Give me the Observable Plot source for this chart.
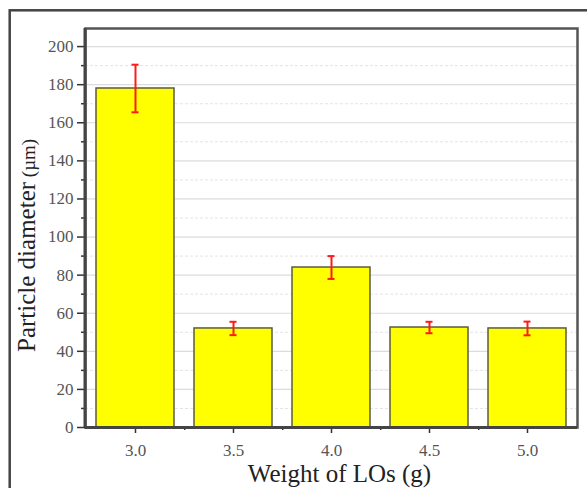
<!DOCTYPE html>
<html><head><meta charset="utf-8">
<script src="https://cdn.jsdelivr.net/npm/d3@7"></script>
<script src="https://cdn.jsdelivr.net/npm/@observablehq/plot@0.6"></script>
<style>
body{margin:0;background:#fff}
</style>
</head><body><div id="chart"></div>
<script>
const weights = ["3.0", "3.5", "4.0", "4.5", "5.0"];
const diameters = [178, 52, 84, 52.5, 52];
const errors = [12.5, 3.5, 6, 3, 3.6];
const yMajorTicks = [0, 20, 40, 60, 80, 100, 120, 140, 160, 180, 200];
const yMinorTicks = [10, 30, 50, 70, 90, 110, 130, 150, 170, 190];
const xMinorTicks = ["3.0", "3.5", "4.0", "4.5"];
const xTitle = "Weight of LOs (g)";
const yTitle = "Particle diameter";
const yUnit = "(µm)";

const data = weights.map((w, i) => ({
  w, d: diameters[i], lo: diameters[i] - errors[i], hi: diameters[i] + errors[i]
}));

const W = 587, H = 488, mL = 85, mR = 10, mT = 28, mB = 61;
const halfStep = (W - mL - mR) / weights.length / 2;
const serif = "Liberation Serif, Tinos, DejaVu Serif, Times New Roman, Times, serif";

const plot = Plot.plot({
  width: W, height: H, marginLeft: mL, marginRight: mR, marginTop: mT, marginBottom: mB,
  style: {fontFamily: serif, fontSize: "17px", background: "#fff", color: "#555"},
  x: {domain: weights, paddingInner: 0.2, paddingOuter: 0.1, axis: null},
  y: {domain: [0, 209.5], axis: null},
  marks: [
    Plot.gridY(yMinorTicks, {stroke: "#e4e4e4", strokeOpacity: 1, strokeDasharray: "3,2"}),
    Plot.gridY(yMajorTicks, {stroke: "#dcdcdc", strokeOpacity: 1, strokeWidth: 1.2}),
    Plot.barY(data, {x: "w", y: "d", fill: "#ffff00", stroke: "#5a5a40", strokeWidth: 1.5}),
    Plot.ruleX(data, {x: "w", y1: "lo", y2: "hi", stroke: "#ff1a1a", strokeWidth: 2}),
    Plot.tickY(data, {x: "w", y: "lo", stroke: "#ff1a1a", strokeWidth: 2, inset: 35.5}),
    Plot.tickY(data, {x: "w", y: "hi", stroke: "#ff1a1a", strokeWidth: 2, inset: 35.5}),
    Plot.frame({stroke: "#555", strokeWidth: 2.5}),
    Plot.axisY(yMajorTicks, {tickSize: 8, tickPadding: 4, stroke: "#333", strokeWidth: 1.5, fill: "#555", label: null, fontSize: 17}),
    Plot.axisY(yMinorTicks, {tickSize: 4, text: null, stroke: "#333", strokeWidth: 1.5, label: null}),
    Plot.axisX(weights, {tickSize: 6, tickPadding: 10, stroke: "#333", strokeWidth: 1.5, fill: "#555", label: null, fontSize: 17}),
    Plot.axisX(xMinorTicks, {tickSize: 3, text: null, stroke: "#333", strokeWidth: 1.5, label: null, dx: halfStep}),
    Plot.ruleY([0], {stroke: "#444", strokeWidth: 3})
  ]
});

const svg = d3.select(plot);
svg.append("rect")
  .attr("x", 9.7).attr("y", 10.3).attr("width", 800).attr("height", 800)
  .attr("fill", "none").attr("stroke", "#444").attr("stroke-width", 2.5);
svg.append("line")
  .attr("x1", mL).attr("x2", mL).attr("y1", mT).attr("y2", H - mB)
  .attr("stroke", "#444").attr("stroke-width", 3);
svg.append("text")
  .attr("x", 339.5).attr("y", 481.5).attr("text-anchor", "middle")
  .attr("fill", "#222").attr("font-size", 25).text(xTitle);
const yt = svg.append("text")
  .attr("transform", "translate(35,352) rotate(-90)").attr("text-anchor", "start")
  .attr("fill", "#222");
yt.append("tspan").attr("font-size", 25).text(yTitle);
yt.append("tspan").attr("font-size", 19).text(" " + yUnit);
svg.selectAll("text").attr("font-family", serif).style("font-family", serif);
svg.selectAll("g").filter(function(){ return this.getAttribute("font-family"); }).attr("font-family", serif);

document.getElementById("chart").appendChild(plot);
</script>
</body></html>
